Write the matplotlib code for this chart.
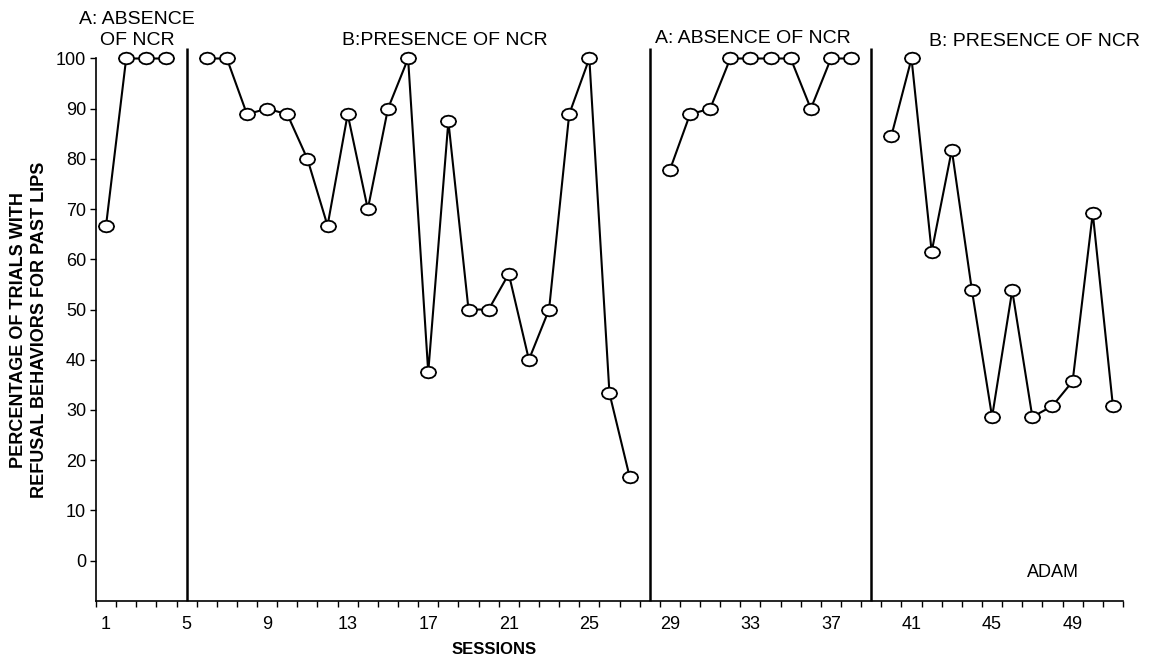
import numpy as np
import matplotlib.pyplot as plt
from matplotlib.path import Path

plt.rcParams['font.family'] = ['Liberation Sans', 'DejaVu Sans']

# sessions and percentages for each phase
baseline1_sessions = [1, 2, 3, 4]
baseline1_values = [66.7, 100, 100, 100]

ncr1_sessions = list(range(6, 28))
ncr1_values = [100, 100, 88.9, 90, 88.9, 80, 66.7, 88.9, 70, 90, 100,
               37.5, 87.5, 50, 50, 57.1, 40, 50, 88.9, 100, 33.3, 16.7]

baseline2_sessions = list(range(29, 39))
baseline2_values = [77.8, 88.9, 90, 100, 100, 100, 100, 90, 100, 100]

ncr2_sessions = list(range(40, 52))
ncr2_values = [84.6, 100, 61.5, 81.8, 53.8, 28.6, 53.8, 28.6, 30.8, 35.7, 69.2, 30.8]

phase_changes = [5, 28, 39]
session_ticks = list(range(1, 50, 4))
phase_titles = ['A: ABSENCE\nOF NCR', 'B:PRESENCE OF NCR', 'A: ABSENCE OF NCR', 'B: PRESENCE OF NCR']
phase_title_x = [2.55, 17.8, 33.1, 47.1]
phase_title_y = [105.7, 103.6, 104.0, 103.4]

# slightly flattened polygon, like the old spreadsheet markers
t = np.linspace(0, 2 * np.pi, 13)
oval = Path(np.column_stack([1.3 * np.cos(t), np.sin(t)]), closed=True)

fig = plt.figure(figsize=(11.52, 6.67), dpi=100)
ax = fig.add_axes([0.0833, 0.0994, 0.8915, 0.8129])

phases = [(baseline1_sessions, baseline1_values), (ncr1_sessions, ncr1_values),
          (baseline2_sessions, baseline2_values), (ncr2_sessions, ncr2_values)]
for s, v in phases:
    ax.plot(s, v, color='black', lw=1.5, marker=oval, ms=11,
            mfc='white', mec='black', mew=1.3, clip_on=False, zorder=3)

ax.vlines(phase_changes, -8, 102, colors='black', lw=1.8, clip_on=False)

for txt, x, y in zip(phase_titles, phase_title_x, phase_title_y):
    ax.text(x, y, txt, ha='center', va='center', ma='center', fontsize=14,
            linespacing=1.35)

ax.text(48, -2.4, 'ADAM', ha='center', va='center', fontsize=13)

ax.set_xlim(0.5, 51.5)
ax.set_ylim(-8, 100)
ax.set_yticks(range(0, 101, 10))
ax.set_xticks(session_ticks)
ax.set_xticks(np.arange(0.5, 52, 1), minor=True)
ax.tick_params(axis='x', which='major', length=0, pad=11, labelsize=13)
ax.tick_params(axis='x', which='minor', length=4, width=1, direction='out')
ax.tick_params(axis='y', length=4, width=1, pad=3, labelsize=13)

for side in ['top', 'right']:
    ax.spines[side].set_visible(False)
for side in ['left', 'bottom']:
    ax.spines[side].set_linewidth(1.2)

ax.set_ylabel('PERCENTAGE OF TRIALS WITH\nREFUSAL BEHAVIORS FOR PAST LIPS',
              fontsize=13, fontweight='bold', linespacing=1.3)
ax.yaxis.set_label_coords(-0.047, 0.5)
ax.set_xlabel('SESSIONS', fontsize=12, fontweight='bold')
ax.xaxis.set_label_coords(0.3875, -0.077)

fig.savefig('out.png', dpi=100)
